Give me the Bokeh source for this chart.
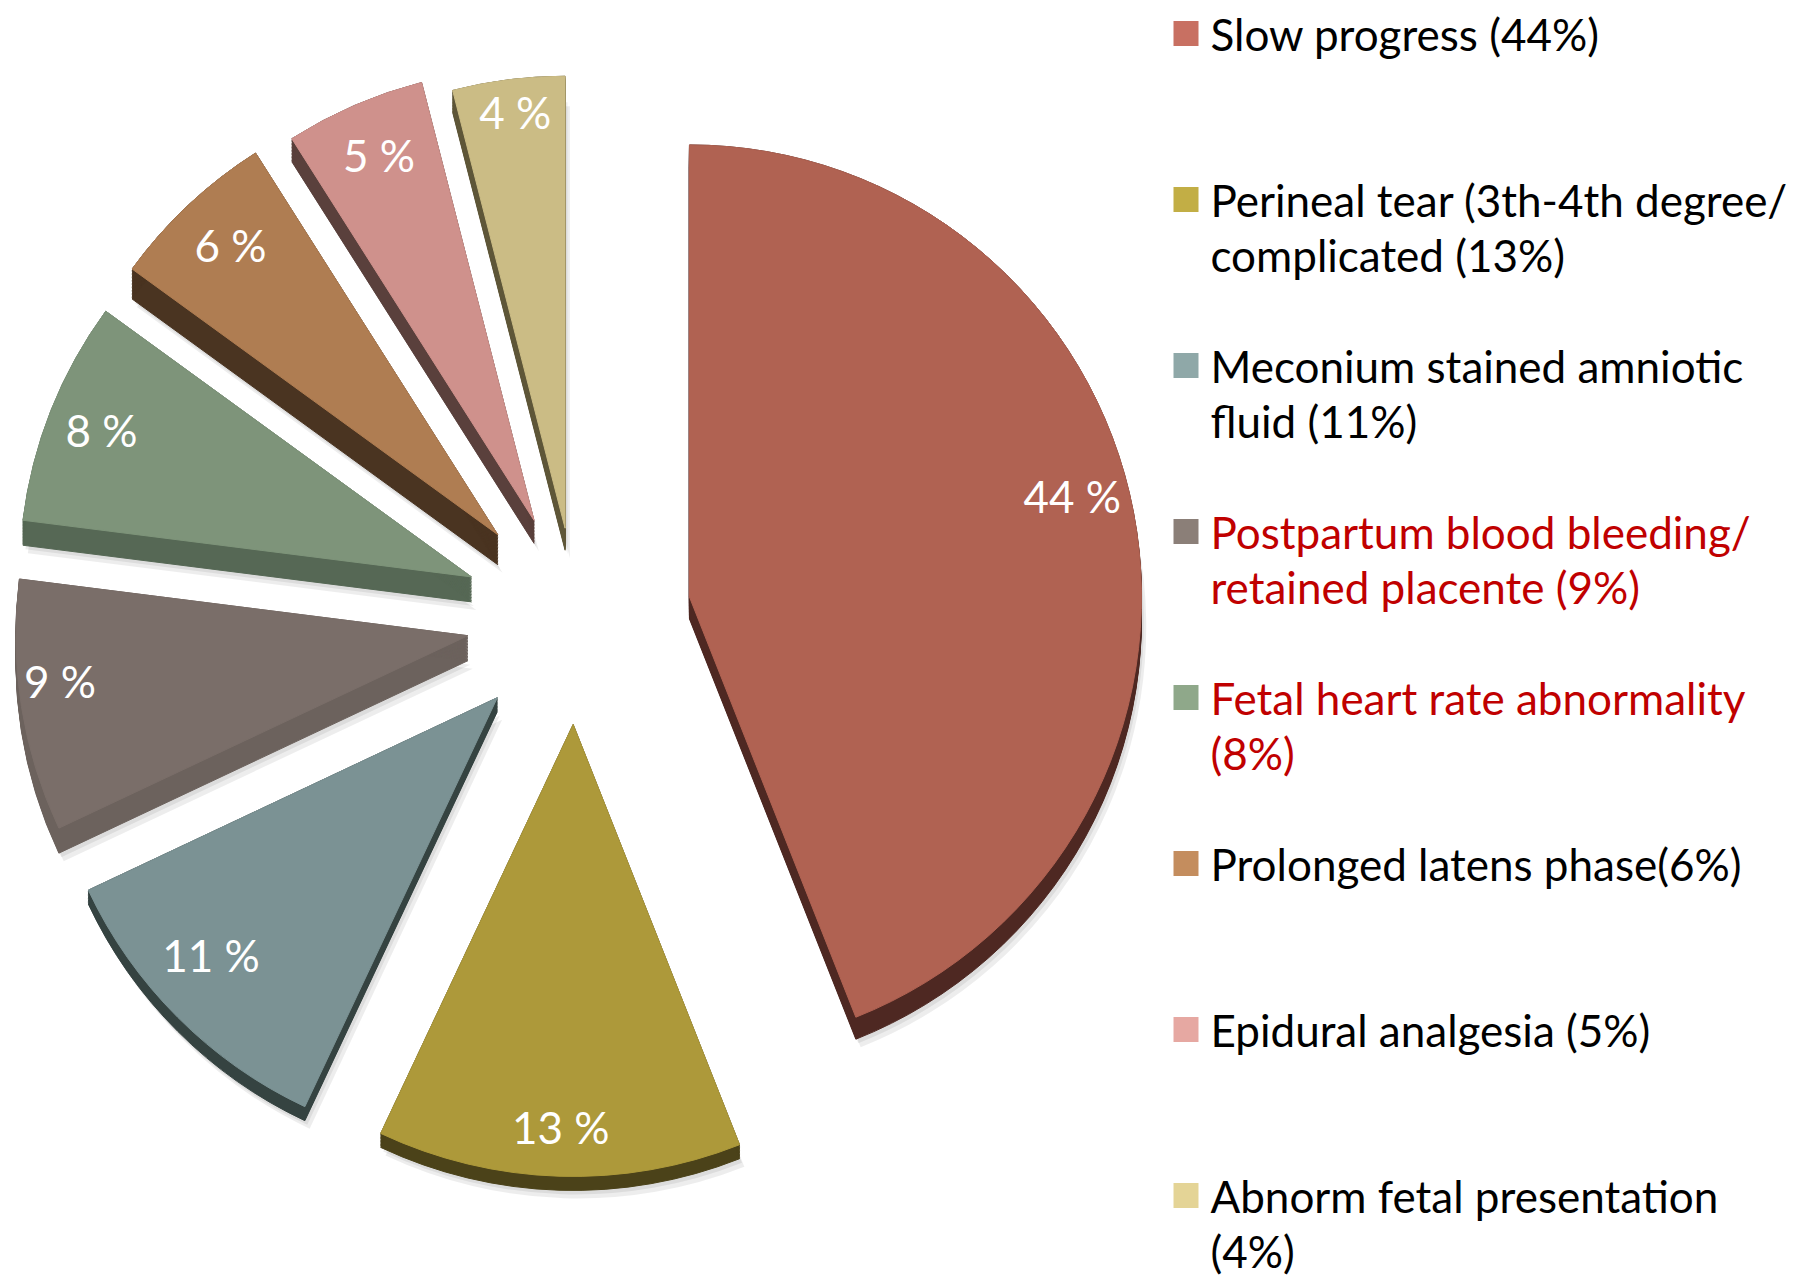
import math
from bokeh.plotting import figure
from bokeh.models import ColumnDataSource, Range1d
from bokeh.core.properties import value
from bokeh.embed import file_html
from bokeh.resources import INLINE

# ---------------- data ----------------
categories = [
    "Slow progress",
    "Perineal tear (3th-4th degree/complicated",
    "Meconium stained amniotic fluid",
    "Postpartum blood bleeding/retained placente",
    "Fetal heart rate abnormality",
    "Prolonged latens phase",
    "Epidural analgesia",
    "Abnorm fetal presentation",
]
percent = [44, 13, 11, 9, 8, 6, 5, 4]
slice_labels = ["44 %", "13 %", "11 %", "9 %", "8 %", "6 %", "5 %", "4 %"]
legend_lines = [
    ["Slow progress (44%)"],
    ["Perineal tear (3th-4th degree/", "complicated (13%)"],
    ["Meconium stained amniotic", "fluid (11%)"],
    ["Postpartum blood bleeding/", "retained placente (9%)"],
    ["Fetal heart rate abnormality", "(8%)"],
    ["Prolonged latens phase(6%)"],
    ["Epidural analgesia (5%)"],
    ["Abnorm fetal presentation", "(4%)"],
]

# ---------------- style ----------------
top_colors = ["#B06252", "#AD993A", "#7B9294", "#7A6E69",
              "#7E947A", "#AF7D52", "#CF918C", "#CBBC85"]
side_colors = ["#4E2822", "#4B4219", "#354341", "#6C625D",
               "#566855", "#4A3421", "#5A403C", "#5E5638"]
legend_colors = ["#C87062", "#C2AE45", "#8FA8A8", "#8B7F78",
                 "#8FA88A", "#C48D5E", "#E6A8A2", "#E4D496"]
legend_text_colors = ["#000000", "#000000", "#000000", "#C00000",
                      "#C00000", "#000000", "#000000", "#000000"]
explode = [115, 106, 112, 110, 113, 115, 107, 91]
depth = [22, 14, 14, 25, 25, 30, 23, 22]
# label nudges (screen px, +y = up)
label_shift = [(-8, 26), (0, -5), (-5, 24), (-15, 17), (0, 0), (5, 0), (3, 0), (0, 22)]

W, H = 1810, 1282
PAGE = 0


def Y(py):
    return (H + PAGE) - py


CX, CY = 576, Y(618)
R = 452
LABEL_R = 0.88 * R
FONT = "Lato"

p = figure(width=W, height=H, x_range=Range1d(PAGE, PAGE + W), y_range=Range1d(0, H),
           x_axis_location=None, y_axis_location=None, toolbar_location=None,
           min_border=0, outline_line_color=None, output_backend="svg",
           background_fill_color="white", border_fill_color="white")
p.grid.visible = False

total = float(sum(percent))
starts, ends, cxs, cys, mids = [], [], [], [], []
acc = 0.0
for i, v in enumerate(percent):
    t1 = acc / total * 360.0
    acc += v
    t2 = acc / total * 360.0
    tm = math.radians((t1 + t2) / 2.0)
    starts.append(math.radians(90 - t1))
    ends.append(math.radians(90 - t2))
    mids.append(tm)
    cxs.append(CX + explode[i] * math.sin(tm))
    cys.append(CY + explode[i] * math.cos(tm))

# soft shadow
sh = dict(x=[], y=[], s=[], e=[])
for i in range(len(percent)):
    for off in (4, 8):
        sh["x"].append(cxs[i] + off * 0.6)
        sh["y"].append(cys[i] - depth[i] - off)
        sh["s"].append(starts[i])
        sh["e"].append(ends[i])
p.wedge(x="x", y="y", radius=R, start_angle="s", end_angle="e", direction="clock",
        source=ColumnDataSource(sh), fill_color="#000000", fill_alpha=0.07, line_color=None)

# side faces (extrusion)
sd = dict(x=[], y=[], s=[], e=[], c=[])
for i in range(len(percent)):
    n = int(depth[i] / 1.5) + 1
    for k in range(n + 1):
        t = depth[i] * k / n
        sd["x"].append(cxs[i])
        sd["y"].append(cys[i] - t)
        sd["s"].append(starts[i])
        sd["e"].append(ends[i])
        sd["c"].append(side_colors[i])
p.wedge(x="x", y="y", radius=R, start_angle="s", end_angle="e", direction="clock",
        source=ColumnDataSource(sd), fill_color="c", line_color="c", line_width=1)

# top faces
top = ColumnDataSource(dict(x=cxs, y=cys, s=starts, e=ends, c=top_colors, cat=categories))
p.wedge(x="x", y="y", radius=R, start_angle="s", end_angle="e", direction="clock",
        source=top, fill_color="c", line_color="c", line_width=1)

# slice labels
lx = [cxs[i] + LABEL_R * math.sin(mids[i]) + label_shift[i][0] for i in range(len(percent))]
ly = [cys[i] + LABEL_R * math.cos(mids[i]) + label_shift[i][1] for i in range(len(percent))]
p.text(x=lx, y=ly, text=slice_labels, text_color="white", text_font=value(FONT),
       text_font_size="44px", text_align="center", text_baseline="middle")

# legend
LX_SQ, LX_TXT = 1185.5, 1210
L_TOP, L_STEP, L_LINE = 33, 166, 55.5
sqx, sqy = [], []
tx, ty, tt, tc = [], [], [], []
for k, lines in enumerate(legend_lines):
    y0 = L_TOP + L_STEP * k
    sqx.append(LX_SQ)
    sqy.append(Y(y0))
    for j, line in enumerate(lines):
        tx.append(LX_TXT)
        ty.append(Y(y0 + j * L_LINE))
        tt.append(line)
        tc.append(legend_text_colors[k])
p.rect(x=sqx, y=sqy, width=25, height=25, fill_color=legend_colors, line_color=None)
p.text(x=tx, y=ty, text=tt, text_color=tc, text_font=value(FONT),
       text_font_size="44px", text_align="left", text_baseline="middle")

open("out.html", "w").write(file_html(p, INLINE))
